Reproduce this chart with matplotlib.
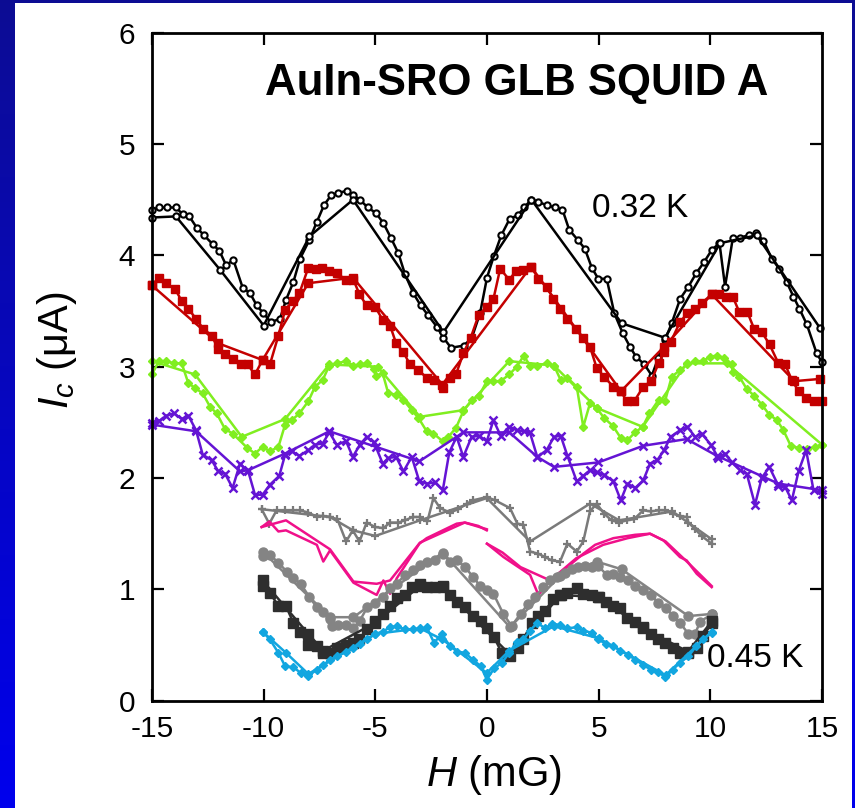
import numpy as np
import matplotlib
matplotlib.use("Agg")
import matplotlib.pyplot as plt
from matplotlib.patches import Rectangle

plt.rcParams['font.family'] = ['Liberation Sans', 'DejaVu Sans']
plt.rcParams['mathtext.fontset'] = 'custom'
plt.rcParams['mathtext.rm'] = 'Liberation Sans'
plt.rcParams['mathtext.it'] = 'Liberation Sans:italic'
plt.rcParams['axes.unicode_minus'] = False

# ---- 0.32 K (open circles) ----
bk_x = [-15.0, -14.67, -14.34, -13.93, -13.63, -13.33, -13.0, -12.67, -12.28, -11.98,
        -11.68, -11.36, -10.94, -10.61, -10.31, -10.01, -9.68, -9.27, -9.0, -8.67,
        -8.37, -7.95, -7.62, -7.30, -6.98, -6.66, -6.28, -5.98, -5.69, -5.34,
        -4.97, -4.64, -4.31, -3.97, -3.67, -3.30, -2.97, -2.63, -2.25, -1.95,
        -1.61, -1.03, -0.68, -0.31, 0.0, 0.30, 0.64, 1.02, 1.39, 1.65,
        1.99, 2.29, 2.69, 3.04, 3.38, 3.68, 4.06, 4.38, 4.69, 4.98,
        5.36, 5.70, 6.08, 6.40, 6.67, 7.05, 7.38, 7.67, 7.97, 8.27,
        8.65, 9.02, 9.37, 9.72, 10.07, 10.41, 10.66, 11.01, 11.33, 11.71,
        12.05, 12.38, 12.75, 13.09, 13.42, 13.72, 13.99, 14.32, 14.76, 15.0]
bk_y = [4.41, 4.43, 4.43, 4.43, 4.37, 4.35, 4.25, 4.18, 4.10, 4.04,
        3.91, 3.96, 3.71, 3.66, 3.55, 3.48, 3.40, 3.43, 3.60, 3.76,
        3.97, 4.14, 4.30, 4.45, 4.54, 4.56, 4.58, 4.54, 4.50, 4.43,
        4.38, 4.29, 4.16, 4.02, 3.83, 3.66, 3.55, 3.46, 3.36, 3.26,
        3.17, 3.19, 3.26, 3.48, 3.80, 3.99, 4.18, 4.33, 4.36, 4.43,
        4.50, 4.48, 4.45, 4.43, 4.41, 4.23, 4.14, 4.06, 3.89, 3.79,
        3.79, 3.48, 3.30, 3.18, 3.09, 3.02, 2.92, 3.08, 3.24, 3.39,
        3.61, 3.72, 3.84, 3.94, 4.05, 4.11, 3.72, 4.16, 4.16, 4.18,
        4.20, 4.13, 3.97, 3.88, 3.76, 3.63, 3.52, 3.38, 3.12, 3.04]
bk2_x = [-15.0, -13.93, -11.95, -10.0, -7.95, -6.0, -1.95, 1.99, 6.03, 7.97, 10.44, 12.08, 14.9]
bk2_y = [4.34, 4.35, 3.87, 3.37, 4.17, 4.50, 3.31, 4.50, 3.39, 3.26, 4.11, 4.18, 3.35]

# ---- red squares ----
rd_x = [-15.0, -14.7, -14.39, -13.97, -13.67, -13.37, -13.03, -12.70, -12.33, -12.03,
        -11.73, -11.39, -11.03, -10.72, -10.39, -10.05, -9.72, -9.34, -9.04, -8.70,
        -8.40, -8.0, -7.65, -7.40, -7.06, -6.73, -6.31, -5.98, -5.71, -5.39,
        -5.01, -4.67, -4.34, -4.07, -3.74, -3.45, -3.07, -2.70, -2.36, -1.98,
        -1.66, -1.39, -1.06, -0.73, -0.38, -0.01, 0.29, 0.59, 1.0, 1.29,
        1.63, 1.97, 2.30, 2.67, 2.97, 3.27, 3.60, 3.99, 4.31, 4.61,
        4.91, 5.24, 5.66, 5.99, 6.26, 6.59, 7.0, 7.35, 7.68, 7.93,
        8.22, 8.64, 8.97, 9.32, 9.61, 10.06, 10.40, 10.70, 11.0, 11.30,
        11.66, 11.96, 12.31, 12.65, 13.05, 13.35, 13.65, 13.95, 14.29, 14.62,
        15.0]
rd_y = [3.73, 3.80, 3.75, 3.70, 3.59, 3.52, 3.43, 3.34, 3.28, 3.16,
        3.11, 3.07, 3.02, 3.02, 2.93, 3.06, 3.02, 3.28, 3.51, 3.59,
        3.66, 3.89, 3.88, 3.89, 3.86, 3.84, 3.78, 3.78, 3.65, 3.55,
        3.54, 3.42, 3.37, 3.21, 3.13, 3.02, 2.97, 2.90, 2.88, 2.81,
        2.90, 2.93, 3.12, 3.26, 3.46, 3.54, 3.61, 3.88, 3.78, 3.86,
        3.87, 3.90, 3.79, 3.72, 3.61, 3.52, 3.43, 3.34, 3.26, 3.18,
        2.99, 2.91, 2.82, 2.78, 2.69, 2.69, 2.82, 2.87, 3.03, 3.13,
        3.22, 3.40, 3.48, 3.52, 3.57, 3.65, 3.65, 3.63, 3.63, 3.49,
        3.49, 3.34, 3.31, 3.20, 3.03, 3.02, 2.88, 2.78, 2.72, 2.69,
        2.69]
rd2_x = [-15.0, -12.03, -10.05, -8.0, -6.0, -2.0, 1.97, 6.0, 7.93, 10.06, 13.76, 14.9]
rd2_y = [3.73, 3.21, 3.06, 3.75, 3.80, 2.84, 3.90, 2.78, 3.18, 3.65, 2.87, 2.89]

# ---- green diamonds ----
gn_x = [-15.0, -14.7, -14.36, -14.0, -13.67, -13.37, -13.07, -12.73, -12.4, -12.1,
        -11.73, -11.39, -10.73, -10.39, -10.05, -9.72, -9.34, -9.04, -8.74, -8.40,
        -8.0, -7.70, -7.36, -7.06, -6.73, -6.31, -5.98, -5.69, -5.39, -5.06,
        -4.97, -4.67, -4.42, -4.07, -3.74, -3.37, -3.07, -2.70, -2.40, -1.98,
        -1.73, -1.39, -1.06, -0.69, -0.35, -0.01, 0.29, 0.61, 1.0, 1.33,
        1.65, 1.92, 2.25, 2.67, 3.0, 3.30, 3.60, 4.02, 4.31, 4.61,
        4.91, 5.24, 5.63, 5.99, 6.29, 6.63, 6.97, 7.27, 7.68, 7.97,
        8.27, 8.65, 8.97, 9.32, 9.66, 9.99, 10.29, 10.59, 10.96, 11.0,
        11.3, 11.63, 11.96, 12.30, 12.64, 12.98, 13.27, 13.60, 13.95, 14.32,
        14.69, 15.0]
gn_y = [2.93, 3.05, 3.05, 3.03, 3.03, 2.85, 2.81, 2.76, 2.64, 2.58,
        2.44, 2.40, 2.27, 2.22, 2.28, 2.24, 2.28, 2.48, 2.52, 2.58,
        2.69, 2.82, 2.88, 3.01, 3.03, 3.05, 3.01, 3.02, 3.03, 2.98,
        2.92, 2.94, 2.76, 2.75, 2.70, 2.61, 2.54, 2.42, 2.40, 2.33,
        2.37, 2.45, 2.60, 2.70, 2.74, 2.87, 2.87, 2.87, 2.93, 3.0,
        3.10, 3.01, 3.01, 3.03, 3.01, 2.88, 2.90, 2.82, 2.46, 2.67,
        2.63, 2.54, 2.47, 2.36, 2.34, 2.41, 2.46, 2.58, 2.70, 2.69,
        2.91, 2.97, 3.02, 3.05, 3.05, 3.09, 3.10, 3.08, 3.02, 2.95,
        2.91, 2.80, 2.74, 2.66, 2.57, 2.52, 2.43, 2.29, 2.27, 2.26,
        2.28, 2.30]
gn2_x = [-15.0, -13.07, -10.98, -9.04, -7.06, -4.9, -3.0, -1.06, 1.0, 3.0, 4.91, 6.97, 8.94, 10.73, 15.0]
gn2_y = [3.05, 2.93, 2.37, 2.53, 3.02, 3.0, 2.55, 2.61, 3.05, 3.01, 2.63, 2.46, 3.03, 3.03, 2.30]

# ---- purple crosses ----
pu_x = [-15.0, -14.7, -14.36, -14.0, -13.67, -13.37, -13.03, -12.73, -12.33, -12.03,
        -11.73, -11.39, -11.06, -10.69, -10.39, -10.05, -9.72, -9.30, -9.04, -8.74,
        -8.40, -8.0, -7.70, -7.36, -7.06, -6.73, -6.31, -6.01, -5.69, -5.39,
        -5.06, -4.67, -4.42, -4.07, -3.74, -3.37, -3.03, -2.70, -2.33, -1.98,
        -1.69, -1.36, -1.06, -0.69, -0.35, -0.01, 0.29, 0.61, 1.0, 1.33,
        1.65, 1.92, 2.25, 2.67, 3.0, 3.30, 3.60, 4.02, 4.31, 4.61,
        4.91, 5.24, 5.66, 5.99, 6.29, 6.63, 7.0, 7.30, 7.62, 7.93,
        8.22, 8.65, 8.97, 9.32, 9.61, 10.02, 10.36, 10.66, 10.96, 11.33,
        11.63, 12.0, 12.30, 12.64, 13.05, 13.35, 13.65, 13.95, 14.29, 14.62,
        15.0]
pu_y = [2.49, 2.51, 2.56, 2.58, 2.53, 2.56, 2.43, 2.21, 2.16, 2.06,
        2.04, 1.91, 2.13, 2.06, 1.85, 1.85, 1.94, 2.02, 2.21, 2.24,
        2.20, 2.25, 2.30, 2.31, 2.41, 2.30, 2.33, 2.19, 2.30, 2.37,
        2.32, 2.13, 2.18, 2.19, 2.06, 2.19, 1.97, 1.95, 1.96, 1.89,
        2.23, 2.37, 2.19, 2.37, 2.38, 2.33, 2.52, 2.38, 2.46, 2.43,
        2.42, 2.41, 2.19, 2.25, 2.37, 2.38, 2.20, 1.97, 2.02, 2.07,
        2.05, 2.03, 1.97, 1.80, 1.95, 1.91, 1.98, 2.13, 2.16, 2.25,
        2.37, 2.43, 2.46, 2.37, 2.40, 2.30, 2.18, 2.22, 2.14, 2.07,
        2.04, 1.76, 2.0, 2.10, 1.93, 1.92, 1.80, 2.06, 2.25, 1.89,
        1.86]
pu2_x = [-15.0, -13.03, -11.06, -10.7, -9.04, -7.06, -4.97, -3.03, -1.06, 1.0,
         2.25, 3.0, 4.98, 7.0, 8.94, 10.29, 12.38, 13.05, 15.0]
pu2_y = [2.48, 2.42, 2.06, 2.07, 2.22, 2.42, 2.28, 2.15, 2.41, 2.41,
         2.19, 2.10, 2.14, 2.29, 2.35, 2.20, 2.01, 1.95, 1.89]

# ---- grey pluses ----
gp_x = [-10.09, -9.75, -9.42, -9.04, -8.7, -8.37, -8.0, -7.62, -7.36, -7.03,
        -6.70, -6.31, -6.01, -5.71, -5.39, -5.01, -4.64, -4.34, -3.97, -3.67,
        -3.33, -3.0, -2.67, -2.40, -2.10, -1.66, -1.28, -0.91, -0.61, -0.01,
        0.36, 1.03, 1.36, 1.63, 1.93, 2.30, 2.60, 2.90, 3.27, 3.60,
        4.02, 4.31, 4.61, 4.91, 5.24, 5.58, 5.92, 6.25, 6.58, 7.0,
        7.33, 7.68, 7.97, 8.32, 8.64, 8.94, 9.02, 9.32, 9.61, 10.06]
gp_y = [1.72, 1.59, 1.71, 1.71, 1.71, 1.71, 1.69, 1.65, 1.66, 1.65,
        1.63, 1.43, 1.53, 1.43, 1.60, 1.56, 1.55, 1.60, 1.60, 1.62,
        1.65, 1.65, 1.61, 1.82, 1.73, 1.69, 1.72, 1.77, 1.80, 1.83,
        1.80, 1.73, 1.59, 1.58, 1.34, 1.32, 1.29, 1.26, 1.25, 1.41,
        1.34, 1.43, 1.70, 1.77, 1.68, 1.62, 1.60, 1.62, 1.63, 1.71,
        1.70, 1.71, 1.71, 1.68, 1.66, 1.65, 1.60, 1.54, 1.48, 1.41]
gp2_x = [-10.09, -7.03, -6.0, -5.0, -3.0, -0.01, 1.93, 4.61, 5.92, 8.3, 10.06]
gp2_y = [1.72, 1.65, 1.53, 1.48, 1.62, 1.82, 1.43, 1.77, 1.62, 1.70, 1.45]

# ---- pink lines (no markers), split at H = 0 ----
pkL_x = [-10.09, -9.75, -9.34, -9.0, -7.62, -7.33, -7.03, -5.98, -4.94, -4.64,
         -4.34, -4.04, -3.03, -2.70, -1.36, -0.99, -0.39, -0.01]
pkL_y = [1.56, 1.61, 1.52, 1.53, 1.40, 1.25, 1.35, 1.06, 0.95, 1.08,
         0.96, 1.10, 1.41, 1.46, 1.59, 1.60, 1.57, 1.53]
pkL2_x = [-10.09, -9.0, -7.03, -5.98, -4.94, -4.34, -3.0, -1.0, -0.01]
pkL2_y = [1.56, 1.62, 1.36, 1.07, 1.05, 1.08, 1.42, 1.60, 1.54]
pkR_x = [0.0, 0.74, 1.93, 2.30, 2.83, 3.42, 4.31, 4.84, 5.66, 6.63, 7.30, 7.90, 8.64, 8.94, 9.39, 10.06]
pkR_y = [1.41, 1.29, 1.13, 0.95, 1.08, 1.17, 1.32, 1.40, 1.46, 1.49, 1.50, 1.44, 1.29, 1.26, 1.14, 1.02]
pkR2_x = [0.0, 0.7, 1.5, 2.83, 4.0, 5.2, 6.3, 7.3, 8.0, 9.0, 10.06]
pkR2_y = [1.41, 1.33, 1.20, 1.08, 1.28, 1.40, 1.46, 1.50, 1.43, 1.24, 1.03]

# ---- grey circles ----
gc_x = [-10.05, -9.72, -9.34, -8.97, -8.67, -8.34, -7.95, -7.62, -7.33, -7.03,
        -6.95, -6.66, -6.31, -5.98, -5.69, -5.36, -5.01, -4.67, -4.34, -4.04,
        -3.67, -3.33, -3.0, -2.67, -2.33, -1.98, -1.66, -1.33, -0.99, -0.61,
        -0.31, -0.01, 0.29, 0.73, 1.10, 1.50, 1.84, 2.14, 2.52, 2.81,
        3.14, 3.49, 3.79, 4.08, 4.38, 4.69, 4.98, 5.36, 5.66, 5.96,
        6.33, 6.63, 7.0, 7.33, 7.67, 8.02, 8.34, 8.64, 9.02, 9.32,
        9.54, 10.09]
gc_y = [1.30, 1.31, 1.24, 1.16, 1.10, 1.05, 0.93, 0.84, 0.80, 0.73,
        0.67, 0.68, 0.68, 0.65, 0.72, 0.84, 0.88, 0.93, 1.01, 1.05,
        1.13, 1.17, 1.22, 1.25, 1.26, 1.32, 1.25, 1.26, 1.20, 1.11,
        1.03, 0.99, 0.96, 0.78, 0.67, 0.78, 0.87, 0.93, 1.02, 1.08,
        1.11, 1.15, 1.18, 1.20, 1.21, 1.20, 1.21, 1.13, 1.14, 1.11,
        1.08, 1.03, 0.99, 0.95, 0.88, 0.83, 0.76, 0.70, 0.60, 0.60,
        0.71, 0.78]
gc2_x = [-10.05, -7.03, -5.98, -1.98, 1.03, 3.27, 4.91, 6.03, 9.02, 10.09]
gc2_y = [1.34, 0.75, 0.75, 1.33, 0.66, 1.12, 1.25, 1.18, 0.76, 0.78]

# ---- dark grey squares ----
dk_x = [-10.05, -9.72, -9.34, -9.0, -8.67, -8.37, -8.0, -7.62, -7.33, -7.03,
        -6.70, -6.31, -6.01, -5.71, -5.39, -5.01, -4.67, -4.34, -4.04, -3.67,
        -3.37, -3.0, -2.67, -2.33, -1.98, -1.66, -1.33, -0.99, -0.61, -0.28,
        -0.01, 0.32, 0.66, 1.03, 1.40, 1.63, 2.0, 2.30, 2.60, 2.97,
        3.27, 3.60, 4.02, 4.31, 4.69, 4.98, 5.33, 5.66, 5.96, 6.26,
        6.63, 7.0, 7.33, 7.67, 7.97, 8.32, 8.64, 9.02, 9.39, 9.66,
        10.09]
dk_y = [1.03, 0.97, 0.85, 0.85, 0.70, 0.62, 0.50, 0.49, 0.43, 0.43,
        0.47, 0.50, 0.52, 0.55, 0.64, 0.72, 0.78, 0.85, 0.92, 0.95,
        1.02, 1.05, 1.02, 1.02, 1.03, 0.95, 0.89, 0.84, 0.76, 0.72,
        0.65, 0.57, 0.43, 0.40, 0.47, 0.55, 0.70, 0.76, 0.81, 0.91,
        0.95, 0.97, 1.01, 0.96, 0.95, 0.93, 0.89, 0.85, 0.83, 0.74,
        0.71, 0.66, 0.60, 0.55, 0.52, 0.47, 0.43, 0.43, 0.47, 0.58,
        0.70]
dk2_x = [-10.05, -8.0, -7.33, -5.0, -3.0, -1.98, 1.0, 3.3, 5.0, 7.0, 9.0, 10.09]
dk2_y = [1.08, 0.60, 0.45, 0.70, 1.03, 1.02, 0.42, 0.95, 0.93, 0.65, 0.44, 0.72]

# ---- 0.45 K (cyan diamonds) ----
cy_x = [-10.05, -9.72, -9.34, -9.04, -8.67, -8.34, -8.0, -7.62, -7.33, -7.03,
        -6.70, -6.31, -5.98, -5.69, -5.36, -5.01, -4.67, -4.34, -4.04, -3.67,
        -3.33, -3.0, -2.70, -2.37, -2.03, -1.66, -1.33, -0.99, -0.64, -0.28,
        -0.01, 0.32, 0.66, 1.0, 1.33, 1.63, 1.93, 2.25, 2.60, 2.90,
        3.27, 3.60, 4.02, 4.31, 4.69, 4.98, 5.33, 5.66, 5.96, 6.33,
        6.63, 7.0, 7.33, 7.67, 7.97, 8.32, 8.64, 9.02, 9.37, 9.66,
        10.06]
cy_y = [0.62, 0.55, 0.43, 0.31, 0.30, 0.25, 0.22, 0.28, 0.32, 0.37,
        0.40, 0.44, 0.47, 0.51, 0.55, 0.60, 0.62, 0.66, 0.67, 0.64,
        0.64, 0.64, 0.66, 0.52, 0.60, 0.49, 0.44, 0.43, 0.37, 0.31,
        0.19, 0.29, 0.34, 0.43, 0.53, 0.55, 0.63, 0.70, 0.65, 0.69,
        0.68, 0.65, 0.66, 0.63, 0.61, 0.55, 0.51, 0.49, 0.45, 0.41,
        0.37, 0.32, 0.28, 0.26, 0.21, 0.28, 0.34, 0.40, 0.49, 0.55,
        0.61]
cy2_x = [-10.05, -9.0, -8.0, -5.0, -3.0, -2.0, -0.01, 1.0, 3.0, 5.0, 8.0, 10.06]
cy2_y = [0.62, 0.43, 0.24, 0.60, 0.65, 0.55, 0.25, 0.45, 0.67, 0.56, 0.23, 0.62]

W, H = 855, 808
fig = plt.figure(figsize=(W / 100, H / 100), dpi=100)

# blue frame with a vertical gradient, white page on top
bg = fig.add_axes([0, 0, 1, 1], zorder=-10)
grad = np.linspace(0, 1, 256).reshape(-1, 1)
top = np.array([0.05, 0.05, 0.58])
bot = np.array([0.0, 0.0, 0.93])
img = top + (bot - top) * grad[:, :, None]
bg.imshow(img, aspect='auto', extent=[0, 1, 0, 1], origin='upper')
bg.add_patch(Rectangle((15 / W, 0), (852 - 15) / W, 1 - 3 / H, facecolor='white', edgecolor='none'))
bg.set_xlim(0, 1)
bg.set_ylim(0, 1)
bg.axis('off')

ax = fig.add_axes([152 / W, 1 - 700.7 / H, (822 - 152) / W, (700.7 - 32.7) / H])


def trace(x, y, color, marker, ms, mfc=None, mew=1.0, lw=1.8):
    ax.plot(x, y, color=color, marker=marker, ms=ms, mfc=mfc if mfc else color,
            mec=color, mew=mew, lw=lw, clip_on=False)


trace(bk_x, bk_y, 'black', 'o', 4.5, mfc='white', mew=1.5)
trace(bk2_x, bk2_y, 'black', 'o', 4.5, mfc='white', mew=1.5)
trace(rd_x, rd_y, '#c40000', 's', 5.5)
trace(rd2_x, rd2_y, '#c40000', 's', 5.5)
trace(gn_x, gn_y, '#80ee20', 'D', 4.5)
trace(gn2_x, gn2_y, '#80ee20', 'D', 4.5)
trace(pu_x, pu_y, '#6414d4', 'x', 6, mew=1.8)
trace(pu2_x, pu2_y, '#6414d4', 'x', 6, mew=1.8)
trace(gp_x, gp_y, '#7a7a7a', '+', 6, mew=1.6)
trace(gp2_x, gp2_y, '#7a7a7a', '+', 6, mew=1.6)
for px, py in [(pkL_x, pkL_y), (pkL2_x, pkL2_y), (pkR_x, pkR_y), (pkR2_x, pkR2_y)]:
    ax.plot(px, py, color='#f0108a', lw=1.8)
trace(gc_x, gc_y, '#848484', 'o', 6.5)
trace(gc2_x, gc2_y, '#848484', 'o', 6.5)
trace(dk_x, dk_y, '#2e2e2e', 's', 7.5)
trace(dk2_x, dk2_y, '#2e2e2e', 's', 7.5)
trace(cy_x, cy_y, '#12a6e0', 'D', 4.5)
trace(cy2_x, cy2_y, '#12a6e0', 'D', 4.5)

ax.set_xlim(-15, 15)
ax.set_ylim(0, 6)
ax.set_xticks([-15, -10, -5, 0, 5, 10, 15])
ax.set_yticks([0, 1, 2, 3, 4, 5, 6])
ax.tick_params(direction='in', length=8.5, width=1.6, top=True, right=True,
               labelsize=21.5, pad=10)
ax.tick_params(axis='y', pad=12)
for s in ax.spines.values():
    s.set_linewidth(2.0)

ax.set_xlabel('$H$ (mG)', fontsize=30, va='center')
ax.xaxis.set_label_coords((494 - 152) / 670, -(775 - 700.7) / 668)
ax.set_ylabel('$I_c$ (μA)', fontsize=30, va='center')
ax.yaxis.set_label_coords(-(152 - 57) / 670, (700.7 - 350) / 668)

ax.text(-9.94, 5.54, 'AuIn-SRO GLB SQUID A', fontsize=31.5, fontweight='bold',
        ha='left', va='center')
ax.text(4.7, 4.42, '0.32 K', fontsize=24, ha='left', va='center')
ax.text(9.84, 0.38, '0.45 K', fontsize=24, ha='left', va='center')

fig.savefig('out.png', dpi=100)
